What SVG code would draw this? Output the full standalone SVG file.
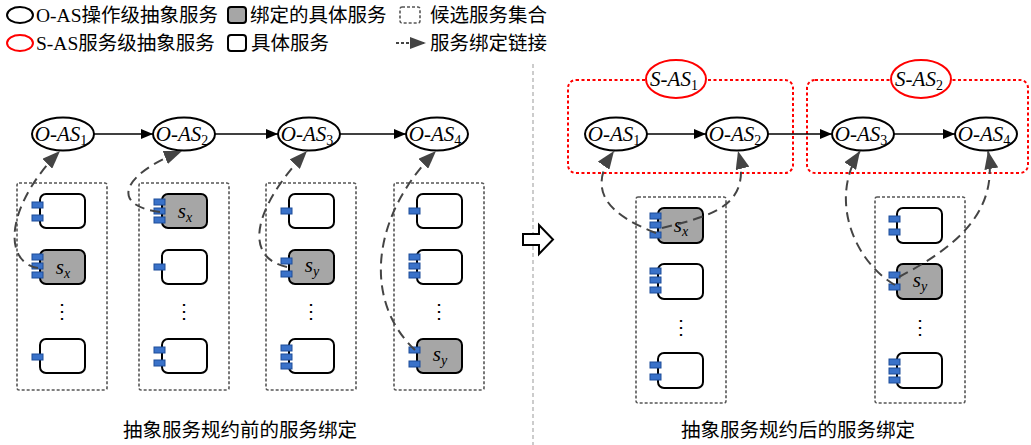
<svg xmlns="http://www.w3.org/2000/svg" width="1031" height="445" viewBox="0 0 1031 445">
<style>
text{font-family:"Liberation Serif","Noto Sans CJK SC",serif;fill:#000}
.cjk{font-family:"Liberation Serif","Noto Sans CJK SC",sans-serif;font-size:19.5px}
.lbl{font-family:"Liberation Serif","Times New Roman",serif;font-size:21px;font-style:italic}
.sub{font-size:14px;font-style:normal}
.isub{font-size:14px;font-style:italic}
.oas{fill:#fff;stroke:#000;stroke-width:2}
.sas{fill:#fff;stroke:#f00;stroke-width:2}
.sasbox{fill:none;stroke:#f00;stroke-width:2;stroke-dasharray:3 2.5}
.cand{fill:none;stroke:#555;stroke-width:1.6;stroke-dasharray:3 2}
.svc{fill:#fff;stroke:#000;stroke-width:2}
.bound{fill:#a6a6a6}
.port{fill:#3a72c9;stroke:#1d4d99;stroke-width:1}
.flow{fill:none;stroke:#000;stroke-width:1.5;marker-end:url(#ah)}
.link{fill:none;stroke:#444;stroke-width:2;stroke-dasharray:10 6;marker-end:url(#lh)}
.dots{font-size:20px;font-family:"Liberation Serif",serif}
</style>
<defs>
<marker id="ah" viewBox="0 0 12 10" refX="12" refY="5" markerWidth="12" markerHeight="10" markerUnits="userSpaceOnUse" orient="auto"><path d="M0,0 L12,5 L0,10 z" fill="#000"/></marker>
<marker id="lh" viewBox="0 0 18 14" refX="18" refY="7" markerWidth="18" markerHeight="14" markerUnits="userSpaceOnUse" orient="auto"><path d="M0,0 L18,7 L0,14 z" fill="#444"/></marker>
<marker id="lh2" viewBox="0 0 16 12" refX="16" refY="6" markerWidth="16" markerHeight="12" markerUnits="userSpaceOnUse" orient="auto"><path d="M0,0 L16,6 L0,12 z" fill="#444"/></marker>
</defs>

<g id="legend">
<ellipse class="oas" cx="20" cy="15" rx="13" ry="8"/>
<text class="cjk" x="36" y="22">O-AS操作级抽象服务</text>
<rect class="svc bound" x="228" y="7" width="18" height="16" rx="3"/>
<text class="cjk" x="250" y="22">绑定的具体服务</text>
<rect class="cand" x="400" y="7" width="20" height="16" rx="2"/>
<text class="cjk" x="430" y="22">候选服务集合</text>
<ellipse class="sas" cx="20" cy="43" rx="13" ry="8"/>
<text class="cjk" x="36" y="50">S-AS服务级抽象服务</text>
<rect class="svc" x="228" y="35" width="18" height="16" rx="3"/>
<text class="cjk" x="251" y="50">具体服务</text>
<line x1="396" y1="43" x2="426" y2="43" stroke="#444" stroke-width="2" stroke-dasharray="3 2" marker-end="url(#lh2)"/>
<text class="cjk" x="430" y="50">服务绑定链接</text>
</g>

<g id="divider">
<line x1="533" y1="64" x2="533" y2="445" stroke="#999" stroke-width="1" stroke-dasharray="4 3"/>
<polygon points="523,234 539,234 539,225 553,239.5 539,254 539,245 523,245" fill="#fff" stroke="#000" stroke-width="2" stroke-linejoin="miter"/>
</g>

<g id="left-set1">
<rect class="cand" x="17" y="183" width="90" height="207" rx="2"/>
<rect class="svc" x="40" y="194" width="45" height="34" rx="6"/>
<rect class="port" x="32" y="202" width="11" height="6"/><rect class="port" x="32" y="215" width="11" height="6"/>
<rect class="svc bound" x="40" y="250" width="45" height="34" rx="6"/>
<rect class="port" x="32" y="254" width="11" height="6"/><rect class="port" x="32" y="263" width="11" height="6"/><rect class="port" x="32" y="272" width="11" height="6"/>
<text class="lbl" x="63" y="274" text-anchor="middle">s<tspan class="isub" dy="4">x</tspan></text>
<text class="dots" x="62" y="318" text-anchor="middle">⋮</text>
<rect class="svc" x="40" y="339" width="45" height="34" rx="6"/>
<rect class="port" x="32" y="354" width="11" height="6"/>
</g>
<g id="left-set2">
<rect class="cand" x="139" y="183" width="90" height="207" rx="2"/>
<rect class="svc bound" x="162" y="194" width="45" height="34" rx="6"/>
<rect class="port" x="154" y="199" width="11" height="6"/><rect class="port" x="154" y="208" width="11" height="6"/><rect class="port" x="154" y="217" width="11" height="6"/>
<text class="lbl" x="185" y="218" text-anchor="middle">s<tspan class="isub" dy="4">x</tspan></text>
<rect class="svc" x="162" y="250" width="45" height="34" rx="6"/>
<rect class="port" x="154" y="264" width="11" height="6"/>
<text class="dots" x="184" y="318" text-anchor="middle">⋮</text>
<rect class="svc" x="162" y="339" width="45" height="34" rx="6"/>
<rect class="port" x="154" y="347" width="11" height="6"/><rect class="port" x="154" y="360" width="11" height="6"/>
</g>
<g id="left-set3">
<rect class="cand" x="266" y="183" width="90" height="207" rx="2"/>
<rect class="svc" x="289" y="194" width="45" height="34" rx="6"/>
<rect class="port" x="281" y="208" width="11" height="6"/>
<rect class="svc bound" x="289" y="250" width="45" height="34" rx="6"/>
<rect class="port" x="281" y="258" width="11" height="6"/><rect class="port" x="281" y="271" width="11" height="6"/>
<text class="lbl" x="312" y="272" text-anchor="middle">s<tspan class="isub" dy="4">y</tspan></text>
<text class="dots" x="311" y="318" text-anchor="middle">⋮</text>
<rect class="svc" x="289" y="339" width="45" height="34" rx="6"/>
<rect class="port" x="281" y="345" width="11" height="6"/><rect class="port" x="281" y="354" width="11" height="6"/><rect class="port" x="281" y="363" width="11" height="6"/>
</g>
<g id="left-set4">
<rect class="cand" x="394" y="183" width="90" height="207" rx="2"/>
<rect class="svc" x="417" y="194" width="45" height="34" rx="6"/>
<rect class="port" x="409" y="208" width="11" height="6"/>
<rect class="svc" x="417" y="250" width="45" height="34" rx="6"/>
<rect class="port" x="409" y="254" width="11" height="6"/><rect class="port" x="409" y="263" width="11" height="6"/><rect class="port" x="409" y="272" width="11" height="6"/>
<text class="dots" x="439" y="318" text-anchor="middle">⋮</text>
<rect class="svc bound" x="417" y="339" width="45" height="34" rx="6"/>
<rect class="port" x="409" y="347" width="11" height="6"/><rect class="port" x="409" y="361" width="11" height="6"/>
<text class="lbl" x="440" y="361" text-anchor="middle">s<tspan class="isub" dy="4">y</tspan></text>
</g>

<g id="left-oas1"><ellipse class="oas" cx="63" cy="134" rx="31" ry="16.5"/><text class="lbl" x="61" y="141" text-anchor="middle">O-AS<tspan class="sub" dy="4">1</tspan></text></g>
<g id="left-oas2"><ellipse class="oas" cx="184" cy="134" rx="31" ry="16.5"/><text class="lbl" x="182" y="141" text-anchor="middle">O-AS<tspan class="sub" dy="4">2</tspan></text></g>
<g id="left-oas3"><ellipse class="oas" cx="309" cy="134" rx="31" ry="16.5"/><text class="lbl" x="307" y="141" text-anchor="middle">O-AS<tspan class="sub" dy="4">3</tspan></text></g>
<g id="left-oas4"><ellipse class="oas" cx="437" cy="134" rx="31" ry="16.5"/><text class="lbl" x="435" y="141" text-anchor="middle">O-AS<tspan class="sub" dy="4">4</tspan></text></g>

<g id="sas1">
<rect class="sasbox" x="568" y="80" width="225" height="93" rx="8"/>
<ellipse class="sas" cx="676" cy="79" rx="30" ry="19"/>
<text class="lbl" x="674" y="86" text-anchor="middle">S-AS<tspan class="sub" dy="4">1</tspan></text>
</g>
<g id="sas2">
<rect class="sasbox" x="807" y="80" width="221" height="93" rx="8"/>
<ellipse class="sas" cx="921" cy="79" rx="30" ry="19"/>
<text class="lbl" x="919" y="86" text-anchor="middle">S-AS<tspan class="sub" dy="4">2</tspan></text>
</g>
<g id="right-oas1"><ellipse class="oas" cx="616" cy="134" rx="31" ry="16.5"/><text class="lbl" x="614" y="141" text-anchor="middle">O-AS<tspan class="sub" dy="4">1</tspan></text></g>
<g id="right-oas2"><ellipse class="oas" cx="737" cy="134" rx="31" ry="16.5"/><text class="lbl" x="735" y="141" text-anchor="middle">O-AS<tspan class="sub" dy="4">2</tspan></text></g>
<g id="right-oas3"><ellipse class="oas" cx="863" cy="134" rx="31" ry="16.5"/><text class="lbl" x="861" y="141" text-anchor="middle">O-AS<tspan class="sub" dy="4">3</tspan></text></g>
<g id="right-oas4"><ellipse class="oas" cx="986" cy="134" rx="31" ry="16.5"/><text class="lbl" x="984" y="141" text-anchor="middle">O-AS<tspan class="sub" dy="4">4</tspan></text></g>

<g id="right-setA">
<rect class="cand" x="636" y="197" width="90" height="206" rx="2"/>
<rect class="svc bound" x="658" y="208" width="45" height="35" rx="6"/>
<rect class="port" x="650" y="213" width="11" height="6"/><rect class="port" x="650" y="222" width="11" height="6"/><rect class="port" x="650" y="232" width="11" height="6"/>
<text class="lbl" x="681" y="232" text-anchor="middle">s<tspan class="isub" dy="4">x</tspan></text>
<rect class="svc" x="658" y="264" width="45" height="35" rx="6"/>
<rect class="port" x="650" y="268" width="11" height="6"/><rect class="port" x="650" y="277" width="11" height="6"/><rect class="port" x="650" y="287" width="11" height="6"/>
<text class="dots" x="681" y="334" text-anchor="middle">⋮</text>
<rect class="svc" x="658" y="353" width="45" height="35" rx="6"/>
<rect class="port" x="650" y="362" width="11" height="6"/><rect class="port" x="650" y="374" width="11" height="6"/>
</g>
<g id="right-setB">
<rect class="cand" x="875" y="197" width="90" height="206" rx="2"/>
<rect class="svc" x="897" y="208" width="45" height="35" rx="6"/>
<rect class="port" x="889" y="216" width="11" height="6"/><rect class="port" x="889" y="229" width="11" height="6"/>
<rect class="svc bound" x="897" y="264" width="45" height="35" rx="6"/>
<rect class="port" x="889" y="272" width="11" height="6"/><rect class="port" x="889" y="284" width="11" height="6"/>
<text class="lbl" x="920" y="287" text-anchor="middle">s<tspan class="isub" dy="4">y</tspan></text>
<text class="dots" x="920" y="334" text-anchor="middle">⋮</text>
<rect class="svc" x="897" y="353" width="45" height="35" rx="6"/>
<rect class="port" x="889" y="359" width="11" height="6"/><rect class="port" x="889" y="368" width="11" height="6"/><rect class="port" x="889" y="377" width="11" height="6"/>
</g>

<g id="connectors">
<line class="flow" x1="94" y1="134" x2="153" y2="134"/>
<line class="flow" x1="215" y1="134" x2="278" y2="134"/>
<line class="flow" x1="340" y1="134" x2="406" y2="134"/>
<line class="flow" x1="647" y1="134" x2="706" y2="134"/>
<line class="flow" x1="768" y1="134" x2="832" y2="134"/>
<line class="flow" x1="894" y1="134" x2="955" y2="134"/>
<path class="link" d="M38,268 C2,262 6,205 60,151"/>
<path class="link" d="M160,212 C112,206 118,176 182,151"/>
<path class="link" d="M287,267 C245,258 250,212 307,151"/>
<path class="link" d="M415,350 C362,300 372,215 436,151"/>
<path class="link" d="M656,233 C610,215 585,192 614,151"/>
<path class="link" d="M662,228 C715,215 752,205 738,151"/>
<path class="link" d="M895,285 C855,262 828,200 860,151"/>
<path class="link" d="M899,277 C950,250 1000,215 988,151"/>
</g>

<g id="captions">
<text class="cjk" x="240" y="437" text-anchor="middle">抽象服务规约前的服务绑定</text>
<text class="cjk" x="798" y="437" text-anchor="middle">抽象服务规约后的服务绑定</text>
</g>
</svg>
